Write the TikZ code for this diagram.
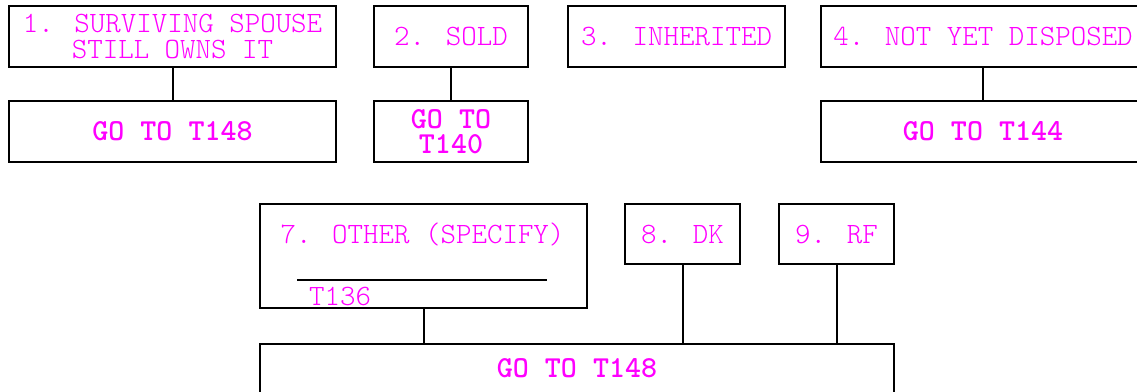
\documentclass[tikz,border=0pt]{standalone}
\definecolor{mag}{RGB}{255,0,255}
\newcommand{\regfont}{\fontsize{29.5}{26}\selectfont\ttfamily\fontseries{l}\selectfont}
\newcommand{\boldfont}{\fontsize{30.5}{25}\selectfont\ttfamily\bfseries}
\begin{document}
\begin{tikzpicture}[x=1pt,y=-1pt,
  box/.style={draw=black, line width=2pt, inner sep=0pt, align=center, text=mag,
    font=\regfont},
  goto/.style={box, font=\boldfont},
  lbl/.style={inner sep=0pt, text=mag, font=\regfont},
  conn/.style={line width=2pt}]
\useasboundingbox (0,0) rectangle (1137,391);
\clip (0,0) rectangle (1137,391);
% top row
\node[box, minimum width=327pt, minimum height=61pt] (q1) at (172.5,36.5) {1. SURVIVING SPOUSE\\STILL OWNS IT};
\node[goto, minimum width=327pt, minimum height=61pt] (g1) at (172.5,131.5) {GO TO T148};
\node[box, minimum width=154pt, minimum height=61pt] (q2) at (451,36.5) {2. SOLD};
\node[goto, minimum width=154pt, minimum height=61pt] (g2) at (451,131.5) {GO TO\\T140};
\node[box, minimum width=217pt, minimum height=61pt] (q3) at (676.5,36.5) {3. INHERITED};
\node[box, minimum width=324pt, minimum height=61pt] (q4) at (983,36.5) {4. NOT YET DISPOSED};
\node[goto, minimum width=324pt, minimum height=61pt] (g4) at (983,131.5) {GO TO T144};
\draw[conn] (q1.south) -- (g1.north);
\draw[conn] (q2.south) -- (g2.north);
\draw[conn] (q4.south) -- (g4.north);
% bottom row
\node[draw=black, line width=2pt, minimum width=327pt, minimum height=104pt, inner sep=0pt] (q7) at (423.5,256) {};
\node[lbl, anchor=base] (q7t) at (422.5,243) {7. OTHER (SPECIFY)};
\node[lbl, anchor=base west] (t136) at (309,305) {T136};
\draw[line width=1.5pt] (297,280) -- (547,280);
\node[box, minimum width=115pt, minimum height=60pt] (q8) at (682.5,234) {8. DK};
\node[box, minimum width=115pt, minimum height=60pt] (q9) at (836.5,234) {9. RF};
\node[goto, minimum width=634pt, minimum height=49pt] (g7) at (577,368.5) {GO TO T148};
\draw[conn] (q7.south) -- (q7.south |- g7.north);
\draw[conn] (q8.south) -- (q8.south |- g7.north);
\draw[conn] (q9.south) -- (q9.south |- g7.north);
\end{tikzpicture}
\end{document}
